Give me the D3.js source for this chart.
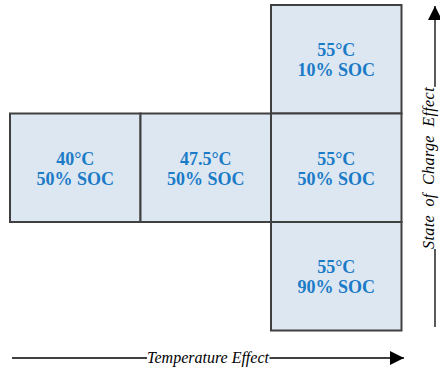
<!DOCTYPE html>
<html lang="en">
<head>
<meta charset="UTF-8">
<title>Test matrix</title>
<style>
  html, body { margin: 0; padding: 0; background: #fff; }
  svg { display: block; }
</style>
</head>
<body>
<svg id="chart" width="440" height="370"></svg>
<script src="https://d3js.org/d3.v7.min.js"></script>
<script>
// test conditions: temperature columns and SOC rows
const temps = ["40", "47.5", "55"];
const socs = ["10", "50", "90"];
const cellTemps = ["55", "40", "47.5", "55", "55"];
const cellSocs = ["10", "50", "50", "50", "90"];
const xLabel = "Temperature Effect";
const yLabel = "State of Charge Effect";

const cells = cellTemps.map((t, i) => ({ temp: t, soc: cellSocs[i] }));

const svg = d3.select("#chart");

const x = d3.scaleBand().domain(temps).range([10, 401.5]);
const y = d3.scaleBand().domain(socs).range([5, 330.5]);

const serif = "'Liberation Serif', 'Times New Roman', serif";

// arrow head
svg.append("defs").append("marker")
    .attr("id", "arrow")
    .attr("viewBox", "0 0 10 10")
    .attr("refX", 10).attr("refY", 5)
    .attr("markerWidth", 14).attr("markerHeight", 14)
    .attr("markerUnits", "userSpaceOnUse")
    .attr("orient", "auto")
  .append("path")
    .attr("d", "M0,0 L10,5 L0,10 z")
    .attr("fill", "#000");

const cell = svg.selectAll("g.cell")
    .data(cells)
    .enter()
    .append("g")
    .attr("class", "cell");

cell.append("rect")
    .attr("x", d => x(d.temp))
    .attr("y", d => y(d.soc))
    .attr("width", x.bandwidth())
    .attr("height", y.bandwidth())
    .attr("fill", "#dde7f2")
    .attr("stroke", "#404040")
    .attr("stroke-width", 2);

const label = cell.append("text")
    .attr("text-anchor", "middle")
    .attr("font-family", serif)
    .attr("font-weight", "bold")
    .attr("font-size", 18)
    .attr("fill", "#1b7bc6");

label.append("tspan")
    .attr("x", d => x(d.temp) + x.bandwidth() / 2)
    .attr("y", d => y(d.soc) + y.bandwidth() / 2 - 3)
    .text(d => d.temp + "°C");

label.append("tspan")
    .attr("x", d => x(d.temp) + x.bandwidth() / 2)
    .attr("y", d => y(d.soc) + y.bandwidth() / 2 + 17)
    .text(d => d.soc + "% SOC");

// horizontal axis arrow with its label sitting on the line
const ax = 358;
svg.append("line")
    .attr("x1", 12).attr("x2", 404)
    .attr("y1", ax).attr("y2", ax)
    .attr("stroke", "#000").attr("stroke-width", 1.3)
    .attr("marker-end", "url(#arrow)");

const xg = svg.append("g");
const xbg = xg.append("rect").attr("fill", "#fff");
const xt = xg.append("text")
    .attr("x", 208).attr("y", ax + 5)
    .attr("text-anchor", "middle")
    .attr("font-family", serif)
    .attr("font-style", "italic")
    .attr("font-size", 16)
    .text(xLabel);
const xb = xt.node().getBBox();
xbg.attr("x", xb.x).attr("y", xb.y + 3)
    .attr("width", xb.width).attr("height", xb.height - 6);

// vertical axis arrow
const ay = 435;
svg.append("line")
    .attr("x1", ay).attr("x2", ay)
    .attr("y1", 327).attr("y2", 6)
    .attr("stroke", "#000").attr("stroke-width", 1.3)
    .attr("marker-end", "url(#arrow)");

const yg = svg.append("g")
    .attr("transform", `translate(${ay - 1.5},168) rotate(-90)`);
const ybg = yg.append("rect").attr("fill", "#fff");
const yt = yg.append("text")
    .attr("text-anchor", "middle")
    .attr("font-family", serif)
    .attr("font-style", "italic")
    .attr("font-size", 16)
    .attr("letter-spacing", 0.4)
    .attr("word-spacing", 4)
    .text(yLabel);
const yb = yt.node().getBBox();
ybg.attr("x", yb.x).attr("y", yb.y + 3)
    .attr("width", yb.width).attr("height", yb.height - 4);
</script>
</body>
</html>
